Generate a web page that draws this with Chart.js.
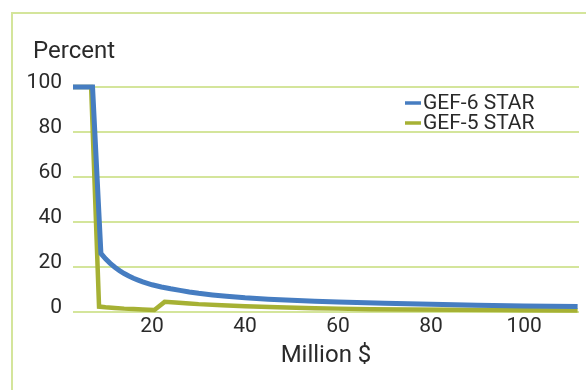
<!DOCTYPE html>
<html><head><meta charset="utf-8">
<script src="https://cdn.jsdelivr.net/npm/chart.js@4/dist/chart.umd.min.js"></script>
<style>
html,body{margin:0;padding:0;background:#fff;}
#wrap{position:relative;width:586px;height:390px;overflow:hidden;}
#frame{position:absolute;left:11px;top:12px;width:620px;height:420px;border:2px solid #d4e59b;box-sizing:border-box;}
canvas{position:absolute;left:0;top:0;}
</style></head><body>
<div id="wrap"><div id="frame"></div><canvas id="c" width="586" height="390"></canvas></div>
<script>
const seriesNames = ['GEF-6 STAR', 'GEF-5 STAR'];
const yAxisTitle = 'Percent';
const xAxisTitle = 'Million $';
const gef6X = [3, 7.2, 9, 9.5, 10, 11, 12, 13, 14, 15, 16, 17, 18, 20, 22, 24, 26, 28, 30, 33, 36, 40, 45, 50, 55, 60, 70, 80, 90, 100, 111.5];
const gef6Y = [100, 100, 26, 24.8, 23.6, 21.6, 19.9, 18.4, 17.1, 16, 15, 14.2, 13.4, 12.1, 11.1, 10.3, 9.6, 8.9, 8.3, 7.6, 7.0, 6.3, 5.7, 5.2, 4.8, 4.4, 3.9, 3.4, 3.0, 2.7, 2.4];
const gef5X = [3, 6.9, 8.6, 10, 12, 14, 16, 18, 20.5, 22.7, 25, 28, 30, 35, 40, 47, 55, 60, 67, 75, 85, 95, 100, 111.5];
const gef5Y = [100, 100, 2.4, 2.1, 1.8, 1.5, 1.3, 1.1, 0.9, 4.5, 4.2, 3.8, 3.5, 3.0, 2.6, 2.1, 1.7, 1.5, 1.2, 1.1, 1.0, 0.9, 0.8, 0.7];
const xTicks = [20, 40, 60, 80, 100];
const yTicks = [0, 20, 40, 60, 80, 100];

const BLUE = '#467dc1', GREEN = '#a6b134', GRID = '#d4e59b', TXT = '#2a2a2a';
const FONT = 'Roboto';

const textPlugin = {
  id: 'customText',
  afterDraw(chart) {
    const ctx = chart.ctx;
    const area = chart.chartArea;
    ctx.save();
    // y-axis title at top-left
    ctx.font = '24px ' + FONT;
    ctx.fillStyle = TXT;
    ctx.textAlign = 'left';
    ctx.textBaseline = 'alphabetic';
    ctx.fillText(yAxisTitle, area.left - 40, area.top - 29);
    // legend
    ctx.font = '21px ' + FONT;
    ctx.textBaseline = 'middle';
    chart.data.datasets.forEach((ds, i) => {
      const y = 103 + i * 20;
      ctx.strokeStyle = ds.borderColor;
      ctx.lineWidth = 3.5;
      ctx.beginPath();
      ctx.moveTo(405, y);
      ctx.lineTo(421, y);
      ctx.stroke();
      ctx.fillStyle = TXT;
      ctx.fillText(ds.label, 423, y + 1);
    });
    ctx.restore();
  }
};

new Chart(document.getElementById('c'), {
  type: 'line',
  data: {
    datasets: [
      { label: seriesNames[0], data: gef6X.map((x, i) => ({x, y: gef6Y[i]})), borderColor: BLUE, borderWidth: 5, pointRadius: 0, tension: 0, clip: false, fill: false },
      { label: seriesNames[1], data: gef5X.map((x, i) => ({x, y: gef5Y[i]})), borderColor: GREEN, borderWidth: 4.5, pointRadius: 0, tension: 0, clip: false, fill: false }
    ]
  },
  options: {
    responsive: false,
    animation: false,
    devicePixelRatio: 1,
    layout: { padding: { left: 20, right: 7, top: 87, bottom: 0 } },
    plugins: {
      legend: { display: false },
      tooltip: { enabled: false },
      title: { display: false }
    },
    scales: {
      x: {
        type: 'linear', min: 3, max: 111.8,
        afterBuildTicks: s => { s.ticks = xTicks.map(v => ({value: v})); },
        afterFit: s => { s.height = 78; },
        grid: { display: false, drawTicks: false },
        border: { display: false },
        ticks: { color: TXT, font: { family: FONT, size: 21 }, padding: 2, maxRotation: 0 },
        title: { display: true, text: xAxisTitle, color: TXT, font: { family: FONT, size: 24 }, padding: { top: 0, bottom: 20 } }
      },
      y: {
        min: 0, max: 100,
        afterBuildTicks: s => { s.ticks = yTicks.map(v => ({value: v})); },
        afterFit: s => { s.width = 53; },
        grid: { color: GRID, lineWidth: 2, drawTicks: false },
        border: { display: false },
        ticks: { color: TXT, font: { family: FONT, size: 21 }, padding: 11, labelOffset: -4 }
      }
    }
  },
  plugins: [textPlugin]
});
</script>
</body></html>
